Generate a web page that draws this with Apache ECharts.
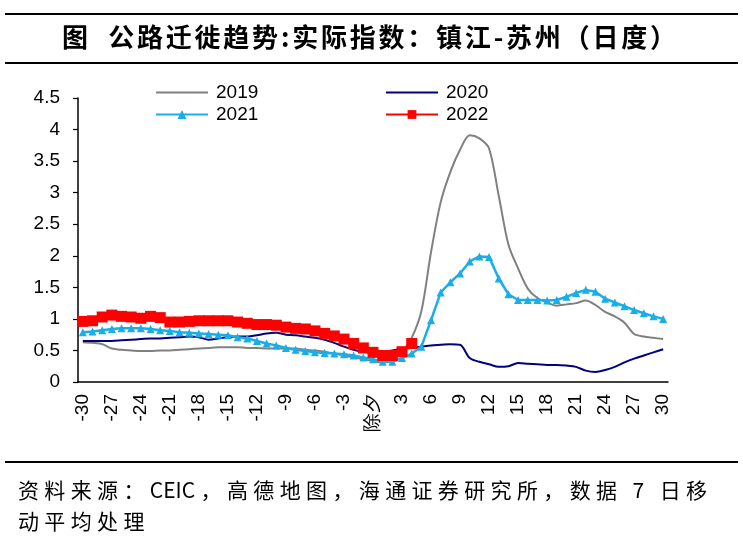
<!DOCTYPE html>
<html>
<head>
<meta charset="utf-8">
<script src="https://cdn.jsdelivr.net/npm/echarts@6/dist/echarts.min.js"></script>
<style>
html,body{margin:0;padding:0;background:#fff;}
#main{width:743px;height:550px;}
</style>
</head>
<body>
<div id="main"></div>
<script>
// x-axis categories: days relative to 除夕
var categories = ['-30','-29','-28','-27','-26','-25','-24','-23','-22','-21',
  '-20','-19','-18','-17','-16','-15','-14','-13','-12','-11',
  '-10','-9','-8','-7','-6','-5','-4','-3','-2','-1',
  '除夕','1','2','3','4','5','6','7','8','9',
  '10','11','12','13','14','15','16','17','18','19',
  '20','21','22','23','24','25','26','27','28','29','30'];

var yTicks = [0, 0.5, 1, 1.5, 2, 2.5, 3, 3.5, 4, 4.5];

var s2019 = [0.63,0.62,0.60,0.53,0.51,0.50,0.49,0.49,0.50,0.50,
  0.51,0.52,0.53,0.54,0.55,0.55,0.55,0.54,0.54,0.53,
  0.53,0.53,0.53,0.51,0.50,0.48,0.45,0.42,0.39,0.36,
  0.33,0.31,0.36,0.48,0.70,1.12,2.06,2.85,3.33,3.68,
  3.91,3.86,3.70,2.95,2.18,1.80,1.48,1.33,1.26,1.21,
  1.23,1.25,1.29,1.22,1.11,1.04,0.94,0.76,0.72,0.70,0.68];

var s2020 = [0.65,0.65,0.65,0.65,0.66,0.67,0.68,0.69,0.69,0.70,
  0.71,0.72,0.71,0.67,0.69,0.71,0.72,0.72,0.74,0.77,
  0.78,0.75,0.74,0.72,0.70,0.67,0.62,0.56,0.51,0.48,
  0.46,0.47,0.50,0.52,0.54,0.56,0.58,0.59,0.60,0.59,
  0.38,0.32,0.28,0.24,0.25,0.30,0.29,0.28,0.27,0.27,
  0.26,0.24,0.18,0.16,0.19,0.24,0.31,0.37,0.42,0.47,0.52];

var s2021 = [0.79,0.80,0.82,0.84,0.85,0.85,0.85,0.84,0.82,0.81,
  0.79,0.78,0.77,0.76,0.75,0.74,0.71,0.69,0.65,0.61,
  0.58,0.54,0.51,0.49,0.47,0.46,0.45,0.44,0.42,0.39,
  0.36,0.32,0.32,0.38,0.45,0.56,0.98,1.42,1.58,1.72,
  1.91,1.99,1.98,1.64,1.39,1.30,1.30,1.30,1.29,1.30,
  1.35,1.41,1.46,1.43,1.32,1.26,1.20,1.14,1.09,1.04,1.00];

var s2022 = [0.96,0.97,1.03,1.06,1.04,1.03,1.01,1.04,1.02,0.95,
  0.95,0.96,0.97,0.97,0.97,0.97,0.95,0.93,0.91,0.91,
  0.90,0.87,0.85,0.84,0.81,0.77,0.73,0.68,0.61,0.54,
  0.47,0.42,0.42,0.48,0.61];

var titleText = '图  公路迁徙趋势:实际指数：镇江-苏州（日度）';
var sourceLine1 = '资料来源：CEIC，高德地图，海通证券研究所，数据 7 日移';
var sourceLine2 = '动平均处理';

var latin = 'Arial, "Liberation Sans", sans-serif';
var cjk = '"Noto Sans CJK SC", sans-serif';

// spread a string's tokens so it spans [x0, x1] (justified, like the source document)
var measureCtx = document.createElement('canvas').getContext('2d');
function spreadText(str, font, x0, x1, top, extraStep) {
  measureCtx.font = font;
  var toks = str.match(/[A-Za-z0-9]+|[\s\S]/g);
  var widths = toks.map(function (c) { return measureCtx.measureText(c).width; });
  var total = widths.reduce(function (a, b) { return a + b; }, 0);
  var extra = (x1 === null) ? extraStep : (x1 - x0 - total) / Math.max(1, toks.length - 1);
  var els = [], x = x0;
  toks.forEach(function (c, i) {
    if (c !== ' ') {
      els.push({type: 'text', x: x, y: top, style: {text: c, font: font, fill: '#000'}, silent: true});
    }
    x += widths[i] + extra;
  });
  return {els: els, extra: extra};
}

var titleFont = 'bold 26px ' + cjk;
var srcFont = '21px ' + cjk;
var t = spreadText(titleText, titleFont, 62, 676, 24);
var s1 = spreadText(sourceLine1, srcFont, 18, 707, 480);
var s2 = spreadText(sourceLine2, srcFont, 18, null, 511, s1.extra);

var chart = echarts.init(document.getElementById('main'), null, {renderer: 'canvas'});

function legendFor(name, left, top, hideSymbol) {
  var lg = {
    data: [name], left: left, top: top, orient: 'horizontal', padding: 0,
    itemWidth: 52, itemHeight: 11, itemGap: 0,
    textStyle: {fontFamily: latin, fontSize: 19, color: '#000', padding: [0, 0, 0, 3]},
    selectedMode: false
  };
  if (hideSymbol) { lg.itemStyle = {opacity: 0}; }
  return lg;
}

chart.setOption({
  animation: false,
  backgroundColor: '#fff',
  graphic: [
    {type: 'line', shape: {x1: 5, y1: 14, x2: 738, y2: 14}, style: {stroke: '#000', lineWidth: 2}},
    {type: 'line', shape: {x1: 5, y1: 63, x2: 738, y2: 63}, style: {stroke: '#000', lineWidth: 2}},
    {type: 'line', shape: {x1: 5, y1: 462, x2: 738, y2: 462}, style: {stroke: '#000', lineWidth: 2}}
  ].concat(t.els, s1.els, s2.els),
  legend: [
    legendFor('2019', 155, 83, true),
    legendFor('2020', 385, 83, true),
    legendFor('2021', 155, 105, false),
    legendFor('2022', 385, 105, false)
  ],
  grid: {left: 78, right: 75, top: 98, bottom: 168, containLabel: false},
  xAxis: {
    type: 'category', data: categories, boundaryGap: true,
    axisLine: {lineStyle: {color: '#000', width: 1.5}},
    axisTick: {interval: 0, length: 5, lineStyle: {color: '#000', width: 1.2}},
    axisLabel: {interval: 2, rotate: 90, margin: 12, color: '#000', fontSize: 19, fontFamily: latin}
  },
  yAxis: {
    type: 'value', min: yTicks[0], max: yTicks[yTicks.length-1], interval: 0.5,
    axisLine: {show: true, lineStyle: {color: '#000', width: 1.5}},
    axisTick: {show: true, length: 5, lineStyle: {color: '#000', width: 1.2}},
    splitLine: {show: false},
    axisLabel: {color: '#000', fontSize: 19, fontFamily: latin, margin: 18}
  },
  series: [
    {name: '2019', type: 'line', data: s2019, smooth: 0.3, showSymbol: false, symbol: 'none',
     lineStyle: {color: '#808080', width: 2}, itemStyle: {color: '#808080'}, z: 2},
    {name: '2020', type: 'line', data: s2020, smooth: 0.3, showSymbol: false, symbol: 'none',
     lineStyle: {color: '#000080', width: 2}, itemStyle: {color: '#000080'}, z: 3},
    {name: '2021', type: 'line', data: s2021, symbol: 'triangle', symbolSize: 8, showAllSymbol: true,
     lineStyle: {color: '#1AADE8', width: 2.5}, itemStyle: {color: '#1AADE8'}, z: 4},
    {name: '2022', type: 'line', data: s2022, symbol: 'rect', symbolSize: 11, showAllSymbol: true,
     lineStyle: {color: '#FF0000', width: 2.5}, itemStyle: {color: '#FF0000'}, z: 5}
  ]
});
</script>
</body>
</html>
